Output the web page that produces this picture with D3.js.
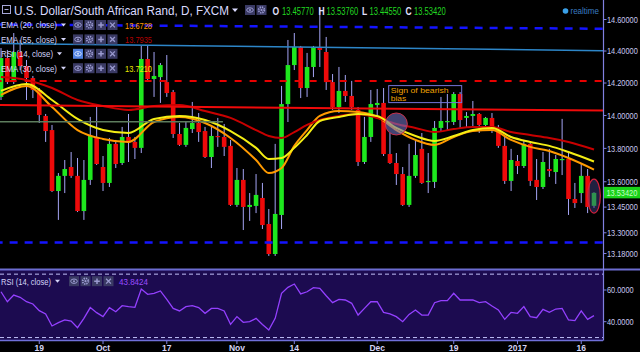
<!DOCTYPE html>
<html>
<head>
<meta charset="utf-8">
<script src="https://cdnjs.cloudflare.com/ajax/libs/d3/7.8.5/d3.min.js"></script>
<style>
  body { margin: 0; background: #000; }
  svg { display: block; font-family: "Liberation Sans", Arial, sans-serif; }
</style>
</head>
<body>
<svg id="chart" width="640" height="352"></svg>
<script>
// trading days on screen (weekdays, 9 Sep 2016 - 18 Jan 2017)
const dates = d3.timeDay.range(new Date(2016, 8, 9), new Date(2017, 0, 19))
  .filter(d => d.getDay() !== 0 && d.getDay() !== 6);

// daily USD/ZAR candles
const open = [14.114, 14.356, 14.206, 14.394, 14.306, 14.231, 14.157, 13.997, 13.911, 13.545,
  13.635, 13.688, 13.635, 13.427, 13.611, 13.869, 13.688, 13.593, 13.827, 13.712,
  13.869, 13.839, 13.803, 14.350, 14.225, 14.237, 14.206, 14.144, 13.887, 13.821,
  13.917, 13.954, 13.905, 13.748, 13.875, 13.869, 13.815, 13.463, 13.611, 13.451,
  13.457, 13.504, 13.351, 13.177, 13.404, 14.070, 14.312, 14.426, 14.169, 14.300,
  14.419, 14.394, 14.206, 14.052, 14.151, 14.120, 14.034, 13.718, 13.869, 14.064,
  14.077, 13.766, 13.712, 13.646, 13.463, 13.635, 13.797, 13.599, 13.599, 13.924,
  13.960, 13.960, 14.132, 13.985, 13.997, 14.009, 13.942, 13.985, 13.911, 13.815,
  13.605, 13.724, 13.694, 13.827, 13.611, 13.569, 13.676, 13.658, 13.730, 13.736,
  13.498, 13.533, 13.635, 13.4577];
const high = [14.419, 14.407, 14.514, 14.470, 14.344, 14.244, 14.169, 14.009, 13.942, 13.652,
  13.730, 13.778, 13.742, 13.730, 13.991, 14.064, 13.754, 13.863, 13.851, 13.930,
  14.009, 13.869, 14.432, 14.438, 14.394, 14.325, 14.375, 14.157, 13.954, 13.960,
  14.083, 14.015, 13.930, 13.936, 13.985, 13.948, 13.851, 13.682, 13.676, 13.533,
  13.646, 13.593, 13.439, 13.827, 14.182, 14.470, 14.514, 14.432, 14.388, 14.432,
  14.674, 14.489, 14.256, 14.300, 14.250, 14.213, 14.052, 13.991, 14.157, 14.163,
  14.169, 13.893, 13.772, 13.688, 13.827, 13.851, 13.893, 13.772, 13.966, 14.114,
  14.132, 14.144, 14.144, 14.021, 14.089, 14.015, 13.991, 14.015, 13.942, 13.869,
  13.797, 13.760, 13.851, 13.833, 13.736, 13.778, 13.797, 13.760, 13.979, 13.778,
  13.593, 13.712, 13.676, 13.5376];
const low = [14.095, 14.194, 14.194, 14.281, 14.095, 14.107, 13.954, 13.839, 13.539, 13.375,
  13.533, 13.623, 13.421, 13.375, 13.581, 13.700, 13.545, 13.569, 13.682, 13.700,
  13.718, 13.736, 13.772, 14.219, 14.114, 14.077, 14.114, 13.863, 13.815, 13.809,
  13.893, 13.839, 13.742, 13.682, 13.809, 13.754, 13.457, 13.451, 13.316, 13.369,
  13.415, 13.322, 13.166, 13.166, 13.322, 13.960, 14.281, 14.107, 14.114, 14.237,
  14.300, 14.157, 14.034, 14.015, 14.083, 14.034, 13.694, 13.706, 13.839, 14.003,
  13.754, 13.706, 13.581, 13.457, 13.451, 13.623, 13.587, 13.533, 13.563, 13.899,
  13.911, 13.942, 13.924, 13.924, 13.930, 13.893, 13.924, 13.893, 13.803, 13.587,
  13.545, 13.646, 13.682, 13.575, 13.492, 13.557, 13.629, 13.587, 13.640, 13.404,
  13.445, 13.474, 13.415, 13.4455];
const close = [14.356, 14.206, 14.394, 14.306, 14.231, 14.157, 14.003, 13.905, 13.545, 13.635,
  13.676, 13.635, 13.427, 13.611, 13.875, 13.706, 13.593, 13.827, 13.706, 13.869,
  13.839, 13.803, 14.350, 14.225, 14.244, 14.312, 14.138, 13.887, 13.821, 13.924,
  13.954, 13.899, 13.748, 13.875, 13.869, 13.809, 13.463, 13.611, 13.451, 13.463,
  13.522, 13.345, 13.177, 13.410, 14.070, 14.312, 14.426, 14.169, 14.300, 14.426,
  14.407, 14.206, 14.052, 14.151, 14.120, 14.052, 13.718, 13.869, 14.070, 14.077,
  13.766, 13.712, 13.646, 13.463, 13.635, 13.760, 13.593, 13.605, 13.924, 13.966,
  13.966, 14.132, 13.972, 13.997, 14.009, 13.942, 13.985, 13.911, 13.815, 13.605,
  13.730, 13.694, 13.827, 13.605, 13.569, 13.718, 13.664, 13.736, 13.736, 13.498,
  13.474, 13.635, 13.451, 13.5342];

// RSI(14) per bar
const rsi = [58.9, 52.6, 56.8, 55.4, 52.6, 51.2, 47.0, 44.9, 37.3, 39.4,
  41.1, 40.4, 36.2, 42.1, 48.9, 45.7, 43.2, 48.9, 46.3, 50.1,
  49.5, 49.1, 60.6, 57.3, 57.9, 59.4, 54.1, 48.4, 46.8, 49.5,
  50.1, 48.9, 45.3, 48.4, 48.4, 46.8, 38.3, 43.2, 39.6, 40.0,
  42.1, 38.3, 34.8, 42.1, 57.9, 61.7, 63.8, 57.5, 58.9, 61.5,
  61.1, 56.4, 52.0, 54.1, 53.7, 51.6, 44.2, 48.4, 52.6, 52.6,
  45.9, 44.9, 43.2, 40.0, 44.6, 47.4, 44.2, 44.2, 52.0, 53.3,
  53.3, 57.9, 53.7, 53.7, 53.7, 52.0, 52.6, 49.9, 47.4, 41.5,
  45.9, 45.3, 49.5, 43.2, 42.5, 47.8, 45.9, 48.0, 48.4, 41.1,
  40.7, 46.8, 41.5, 43.8424];

// EMA values read at these bars
const emaBars = [0, 4, 8, 12, 16, 20, 24, 28, 32, 36, 40, 42, 44, 46, 48, 50, 53, 56, 59, 62, 65, 68, 71, 74, 77, 80, 83, 86, 89, 93];
const ema20 = [14.126, 14.182, 14.052, 13.911, 13.857, 13.839, 13.960, 13.991, 13.954, 13.863, 13.730, 13.652, 13.682, 13.815, 13.911,
  13.997, 14.027, 14.021, 13.991, 13.911, 13.851, 13.821, 13.869, 13.905, 13.911, 13.851, 13.809, 13.784, 13.742, 13.6728];
const ema30 = [14.151, 14.194, 14.095, 13.979, 13.911, 13.893, 13.979, 13.997, 13.972, 13.905, 13.803, 13.736, 13.742, 13.803, 13.881,
  13.966, 13.991, 14.009, 13.997, 13.924, 13.875, 13.845, 13.875, 13.911, 13.924, 13.869, 13.839, 13.815, 13.778, 13.7210];
const ema55 = [14.237, 14.219, 14.169, 14.095, 14.058, 14.034, 14.058, 14.064, 14.027, 13.985, 13.911, 13.875, 13.863, 13.899, 13.942,
  13.972, 13.997, 14.009, 13.985, 13.948, 13.924, 13.899, 13.917, 13.930, 13.930, 13.899, 13.881, 13.863, 13.839, 13.7935];

// drawings on the chart: [bar, price] end points
const blueDashTop = [[-1, 14.568], [95, 14.541]];
const blueSolid = [[-1, 14.448], [95, 14.402]];
const redDash = [[-1, 14.213], [95, 14.213]];
const redSolid = [[-1, 14.064], [95, 14.030]];
const greenLevel = [[-1, 13.962], [34.8, 13.962]];
const blueDashLow = [[-1, 13.244], [95, 13.244]];
const circleAt = [62, 13.948];
const ellipseAt = [93, 13.515];
const noteAt = [60.8, 14.184];
const noteText = ["Sign of bearish", "bias"];

const priceTicks = [14.6, 14.4, 14.2, 14.0, 13.8, 13.6, 13.45, 13.3, 13.18];
const rsiTicks = [60, 40];
const rsiBands = [70, 30];
const timeTicks = ["2016-09-19", "2016-10-03", "2016-10-17", "2016-11-01", "2016-11-14", "2016-12-01", "2016-12-19", "2017-01-02", "2017-01-16"];
const timeLabels = ["19", "Oct", "17", "Nov", "14", "Dec", "19", "2017", "16"];

const svg = d3.select("#chart");
const plotRight = 603, mainBottom = 269, rsiTop = 270, rsiBottom = 340.5;
const axisText = "#c8c8f0";

const x = d3.scaleLinear().domain([0, dates.length - 1]).range([1, 594]);
const y = d3.scaleLog().domain([13.18, 14.6]).range([253.5, 19.5]);
const yRsi = d3.scaleLinear().domain([40, 60]).range([321.7, 290]);
const dayKey = d3.timeFormat("%Y-%m-%d");
const keys = dates.map(dayKey);

// small text stretched a little in height (the chart font is narrow)
function tallText(g, tx, ty, str, size, sy) {
  return g.append("text")
    .attr("transform", `translate(${tx},${ty}) scale(1,${sy})`)
    .attr("font-size", size).text(str);
}

svg.append("rect").attr("width", 640).attr("height", 352).attr("fill", "#000");
svg.append("rect").attr("y", rsiTop).attr("width", plotRight).attr("height", rsiBottom - rsiTop).attr("fill", "#1c0b50");

const defs = svg.append("defs");
defs.append("clipPath").attr("id", "clipMain").append("rect").attr("width", plotRight).attr("height", mainBottom);
defs.append("clipPath").attr("id", "clipRsi").append("rect").attr("y", rsiTop).attr("width", plotRight).attr("height", rsiBottom - rsiTop);

const main = svg.append("g").attr("clip-path", "url(#clipMain)");

// candles
const bars = dates.map((d, i) => ({ i, o: open[i], h: high[i], l: low[i], c: close[i] }));
const candle = main.append("g").selectAll("g").data(bars).join("g");
candle.append("line")
  .attr("x1", d => x(d.i)).attr("x2", d => x(d.i))
  .attr("y1", d => y(d.h)).attr("y2", d => y(d.l))
  .attr("stroke", "#a4a4f4").attr("stroke-width", 1);
candle.append("rect")
  .attr("x", d => x(d.i) - 2.3).attr("width", 4.6)
  .attr("y", d => y(Math.max(d.o, d.c)))
  .attr("height", d => Math.max(1.2, Math.abs(y(d.o) - y(d.c))))
  .attr("fill", d => d.c >= d.o ? "#1ee81e" : "#ee0a0a");

// moving averages
const emaLine = d3.line().x(d => x(d[0])).y(d => y(d[1])).curve(d3.curveMonotoneX);
[[ema20, "#ff9a00"], [ema55, "#c80000"], [ema30, "#f4ee14"]].forEach(([vals, col]) => {
  main.append("path")
    .datum(emaBars.map((b, k) => [b, vals[k]]))
    .attr("d", emaLine)
    .attr("fill", "none").attr("stroke", col).attr("stroke-width", 2);
});

// drawn lines
const seg = d3.line().x(d => x(d[0])).y(d => y(d[1]));
function drawing(pts, col, w, dash) {
  main.append("path").datum(pts).attr("d", seg)
    .attr("fill", "none").attr("stroke", col).attr("stroke-width", w)
    .attr("stroke-dasharray", dash || null);
}
drawing(blueDashTop, "#1414ff", 2.5, "8,7");
drawing(blueSolid, "#2d86c8", 1.5);
drawing(redDash, "#e80000", 2, "7,8");
drawing(redSolid, "#f00a0a", 2);
drawing(greenLevel, "#5d7d5d", 1.5);
drawing(blueDashLow, "#1414ff", 2.5, "8,7");

main.append("circle")
  .attr("cx", x(circleAt[0])).attr("cy", y(circleAt[1])).attr("r", 11)
  .attr("fill", "#7070c0").attr("fill-opacity", 0.6)
  .attr("stroke", "#c8304a").attr("stroke-width", 1);
main.append("ellipse")
  .attr("cx", x(ellipseAt[0])).attr("cy", y(ellipseAt[1])).attr("rx", 6.3).attr("ry", 17)
  .attr("fill", "#404080").attr("fill-opacity", 0.5)
  .attr("stroke", "#d8203c").attr("stroke-width", 1.2);

const note = main.append("g").attr("transform", `translate(${x(noteAt[0])},${y(noteAt[1])})`);
note.append("rect").attr("width", 73).attr("height", 17)
  .attr("fill", "none").attr("stroke", "#7474d8").attr("stroke-width", 1);
note.selectAll("text").data(noteText).join("text")
  .attr("x", 2).attr("y", (d, k) => 7.2 + k * 8.4)
  .attr("font-size", 7).attr("fill", "#f0a000")
  .attr("textLength", (d, k) => k === 0 ? 58 : 15.5).attr("lengthAdjust", "spacingAndGlyphs")
  .text(d => d);

// RSI pane
const rsiG = svg.append("g").attr("clip-path", "url(#clipRsi)");
rsiG.selectAll("line.band").data(rsiBands).join("line")
  .attr("x1", 0).attr("x2", plotRight)
  .attr("y1", d => yRsi(d)).attr("y2", d => yRsi(d))
  .attr("stroke", "#c0c0f8").attr("stroke-width", 1).attr("stroke-dasharray", "4,3");
rsiG.append("path").datum(rsi)
  .attr("d", d3.line().x((d, i) => x(i)).y(d => yRsi(d)))
  .attr("fill", "none").attr("stroke", "#9440ff").attr("stroke-width", 1.3);

// frame
svg.append("line").attr("x1", 0).attr("x2", 640).attr("y1", 269.5).attr("y2", 269.5)
  .attr("stroke", "#6c6cd0").attr("stroke-width", 2);
svg.append("line").attr("x1", 0).attr("x2", plotRight).attr("y1", rsiBottom).attr("y2", rsiBottom)
  .attr("stroke", "#7070d8").attr("stroke-width", 1.5);
svg.append("line").attr("x1", plotRight + 0.5).attr("x2", plotRight + 0.5).attr("y1", 0).attr("y2", rsiBottom)
  .attr("stroke", "#8080e0").attr("stroke-width", 1.2);

// price axis
const pa = svg.append("g");
pa.selectAll("line").data(priceTicks).join("line")
  .attr("x1", plotRight).attr("x2", plotRight + 3.5)
  .attr("y1", d => y(d)).attr("y2", d => y(d)).attr("stroke", "#8080e0");
priceTicks.forEach(t => {
  tallText(pa, 607, y(t) + 3.2, d3.format(".5f")(t), 7.4, 1.2).attr("fill", axisText);
});

const ra = svg.append("g");
ra.selectAll("line").data(rsiTicks).join("line")
  .attr("x1", plotRight).attr("x2", plotRight + 3.5)
  .attr("y1", d => yRsi(d)).attr("y2", d => yRsi(d)).attr("stroke", "#8080e0");
rsiTicks.forEach(t => {
  tallText(ra, 607, yRsi(t) + 3.2, d3.format(".4f")(t), 7.4, 1.2).attr("fill", axisText);
});

// last price tag
const last = close[close.length - 1];
svg.append("rect").attr("x", plotRight + 1).attr("y", y(last) - 6).attr("width", 37).attr("height", 11.5)
  .attr("fill", "#19d219");
tallText(svg, 606.5, y(last) + 3.2, d3.format(".5f")(last), 7.4, 1.2).attr("fill", "#c4ffc4");

// time axis
const ta = svg.append("g");
const tickX = timeTicks.map(t => x(keys.indexOf(t)));
ta.selectAll("line").data(tickX).join("line")
  .attr("x1", d => d).attr("x2", d => d).attr("y1", 341).attr("y2", 344)
  .attr("stroke", "#8080e0");
ta.selectAll("text").data(timeLabels).join("text")
  .attr("x", (d, k) => tickX[k]).attr("y", 351)
  .attr("text-anchor", "middle").attr("font-size", 8.5).attr("font-weight", "bold")
  .attr("fill", "#d4d4f4")
  .text(d => d);

// icon buttons used in the legends
function iconRow(g, x0, cy, kinds, active) {
  kinds.forEach((kind, k) => {
    const b = g.append("g").attr("transform", `translate(${x0 + k * 11.5},${cy - 5})`);
    b.append("rect").attr("width", 10).attr("height", 10)
      .attr("fill", active && k === 0 ? "#4f80e0" : "#3a3a64");
    const st = active && k === 0 ? "#d0e0ff" : "#9a9ad0";
    if (kind === "eye") {
      b.append("ellipse").attr("cx", 5).attr("cy", 5).attr("rx", 3.3).attr("ry", 2.2)
        .attr("fill", "none").attr("stroke", st).attr("stroke-width", 1);
      b.append("circle").attr("cx", 5).attr("cy", 5).attr("r", 1).attr("fill", st);
    } else if (kind === "gear") {
      b.append("circle").attr("cx", 5).attr("cy", 5).attr("r", 2.8)
        .attr("fill", "none").attr("stroke", st).attr("stroke-width", 1.8).attr("stroke-dasharray", "1.3,0.9");
      b.append("circle").attr("cx", 5).attr("cy", 5).attr("r", 1.1).attr("fill", st);
    } else if (kind === "plus") {
      b.append("path").attr("d", "M5,2.2V7.8M2.2,5H7.8").attr("stroke", st).attr("stroke-width", 1.5);
    } else {
      b.append("path").attr("d", "M2.6,2.6L7.4,7.4M7.4,2.6L2.6,7.4").attr("stroke", st).attr("stroke-width", 1.3);
    }
  });
}

// header
const hd = svg.append("g");
hd.append("rect").attr("x", 2.5).attr("y", 5.5).attr("width", 8).attr("height", 8)
  .attr("fill", "none").attr("stroke", "#a8a8d8");
hd.append("line").attr("x1", 4.5).attr("x2", 8.5).attr("y1", 9.5).attr("y2", 9.5).attr("stroke", "#a8a8d8");
hd.append("text").attr("x", 14).attr("y", 14.5).attr("font-size", 12).attr("fill", "#dadaff")
  .attr("textLength", 215).attr("lengthAdjust", "spacingAndGlyphs")
  .text("U.S. Dollar/South African Rand, D, FXCM");
hd.append("path").attr("d", "M232,8.5h6l-3,3.5z").attr("fill", "#dadaff");
iconRow(hd, 245, 10, ["eye", "gear"], false);

const ohlc = [["O", open], ["H", high], ["L", low], ["C", close]];
const ohlcX = [[272.5, 282], [318.5, 326.5], [362, 369.5], [405.5, 414]];
ohlc.forEach(([lab, arr], k) => {
  tallText(hd, ohlcX[k][0], 14.5, lab, 8.5, 1.25).attr("font-weight", "bold").attr("fill", "#e0e0ff");
  tallText(hd, ohlcX[k][1], 14.5, d3.format(".5f")(arr[arr.length - 1]), 7.6, 1.35).attr("fill", "#22d822");
});
hd.append("circle").attr("cx", 565.5).attr("cy", 11).attr("r", 2.8).attr("fill", "#3aa0e8");
hd.append("text").attr("x", 570.5).attr("y", 14).attr("font-size", 8.5).attr("fill", "#3a7cc0")
  .attr("textLength", 28.5).attr("lengthAdjust", "spacingAndGlyphs").text("realtime");

// study legend
const legendRows = [
  { name: "EMA (20, close)", value: ema20[ema20.length - 1], color: "#ff9a00", w: 56 },
  { name: "EMA (55, close)", value: ema55[ema55.length - 1], color: "#b40000", w: 56 },
  { name: "RSI (14, close)", value: null, color: null, w: 52, active: true },
  { name: "EMA (30, close)", value: ema30[ema30.length - 1], color: "#e8e800", w: 56 }
];
const lg = svg.append("g");
legendRows.forEach((r, k) => {
  const cy = 25 + k * 14.4;
  lg.append("text").attr("x", 1).attr("y", cy + 3.3).attr("font-size", 9.5).attr("fill", "#d4d4f8")
    .attr("textLength", r.w).attr("lengthAdjust", "spacingAndGlyphs").text(r.name);
  lg.append("path").attr("d", `M${r.w + 5},${cy - 1.5}h5l-2.5,3z`).attr("fill", "#d4d4f8");
  iconRow(lg, 73, cy, ["eye", "gear", "plus", "close"], r.active);
  if (r.value !== null) {
    lg.append("text").attr("x", 125).attr("y", cy + 3.5).attr("font-size", 9.5).attr("fill", r.color)
      .attr("textLength", 27).attr("lengthAdjust", "spacingAndGlyphs")
      .text(d3.format(".4f")(r.value));
  }
});

// RSI legend
const rl = svg.append("g");
rl.append("text").attr("x", 1).attr("y", 284.5).attr("font-size", 9.5).attr("fill", "#d4d4f8")
  .attr("textLength", 50).attr("lengthAdjust", "spacingAndGlyphs").text("RSI (14, close)");
rl.append("path").attr("d", "M55,279.7h5l-2.5,3z").attr("fill", "#d4d4f8");
iconRow(rl, 69, 281.2, ["eye", "gear", "plus", "close"], false);
rl.append("text").attr("x", 119).attr("y", 284.7).attr("font-size", 9.5).attr("fill", "#9a4cff")
  .attr("textLength", 29).attr("lengthAdjust", "spacingAndGlyphs")
  .text(d3.format(".4f")(rsi[rsi.length - 1]));
</script>
</body>
</html>
